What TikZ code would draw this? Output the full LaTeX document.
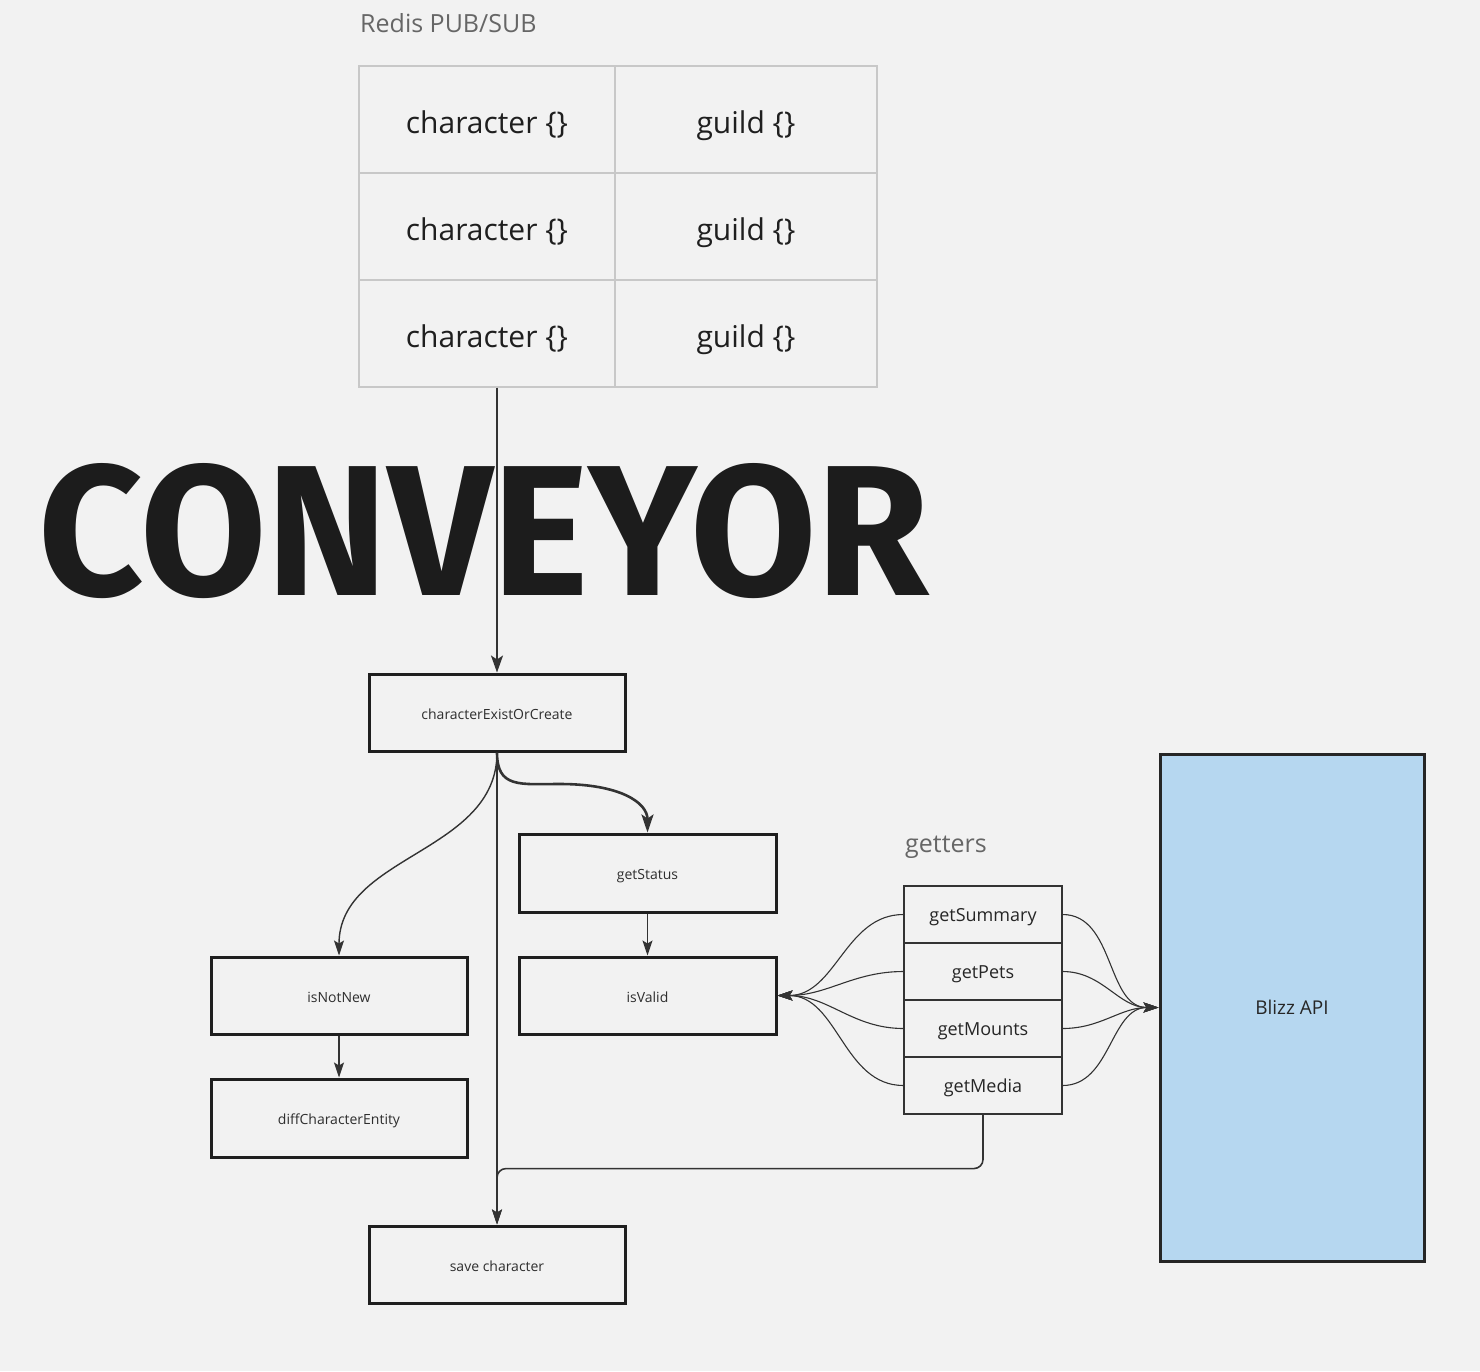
\documentclass[tikz,border=0pt]{standalone}
\usepackage{fontspec}
\setmainfont{Open Sans}
\newfontfamily\titlefont{Fira Sans}
\usetikzlibrary{arrows.meta,calc}

\definecolor{bg}{HTML}{F2F2F2}
\definecolor{ink}{HTML}{333333}
\definecolor{cellline}{HTML}{C8C8C8}
\definecolor{label}{HTML}{666666}
\definecolor{blizz}{HTML}{B6D7F0}

\tikzset{
	cell/.style={draw=cellline, line width=1.2pt, minimum height=107pt, inner sep=0pt, text height=27pt, text depth=0pt, font=\fontsize{30}{36}\selectfont, text=black!88},
	stepbox/.style={draw=black!88, line width=3pt, minimum width=256pt, minimum height=77pt, inner sep=0pt, text height=13pt, text depth=0pt, font=\fontsize{14}{17}\selectfont, text=black!82},
	getrow/.style={draw=ink, line width=1.1pt, minimum width=158pt, minimum height=57pt, inner sep=0pt, text height=14pt, text depth=0pt, font=\fontsize{18}{22}\selectfont, text=black!85},
	caption/.style={anchor=base west, inner sep=0pt, text=label, font=\fontsize{25}{30}\selectfont},
	link/.style={draw=ink, line width=1.4pt, -{Stealth[length=15pt,width=10pt,inset=3pt]}},
}

\begin{document}
\begin{tikzpicture}[x=1pt,y=-1pt]
			%%%%% START %%%%%
			\fill[bg] (0,0) rectangle (1480,1371);
			\useasboundingbox (0,0) rectangle (1480,1371);
			
			% pub/sub table
			\node[caption] (redis) at (360,32) {Redis PUB/SUB};
			\foreach \r/\y in {1/119.5, 2/226.5, 3/333.5} {
				\node[cell, minimum width=256pt] (char\r) at (487,\y) {character \{\}};
				\node[cell, minimum width=262pt] (guild\r) at (746,\y) {guild \{\}};
			}
			
			\node[anchor=base, inner sep=0pt, text=black!89, font=\titlefont\bfseries\fontsize{186}{200}\selectfont] (conveyor) at (484,595) {\scalebox{0.985}[1]{CONVEYOR}};
			
			% steps
			\node[stepbox] (exist) at (497,712.5) {characterExistOrCreate};
			\node[stepbox, minimum width=257pt, minimum height=78pt] (status) at (647.5,873) {getStatus};
			\node[stepbox, minimum width=257pt] (valid) at (647.5,995.5) {isValid};
			\node[stepbox] (notnew) at (339,995.5) {isNotNew};
			\node[stepbox, minimum height=78pt] (diff) at (339,1118) {diffCharacterEntity};
			\node[stepbox] (save) at (497,1264.5) {save character};
			
			% getters
			\node[caption] (getters) at (905,852) {getters};
			\foreach \n/\t [count=\i] in {summary/getSummary, pets/getPets, mounts/getMounts, media/getMedia}
				\node[getrow] (\n) at (983,857.5+57*\i) {\t};
			
			\node[draw=black!85, fill=blizz, line width=3pt, minimum width=264pt, minimum height=507pt, font=\fontsize{19}{23}\selectfont, text=black!85] (blizz) at (1292,1007.5) {Blizz API};
			
			% connectors
			\draw[link, line width=2pt, -{Stealth[length=17pt,width=12pt,inset=4pt]}] (char3.south -| exist.north) -- (exist.north);
			\draw[link] (exist.south) to[out=-90,in=90] (notnew.north);
			\draw[link, line width=2.6pt, -{Stealth[length=18pt,width=12pt,inset=4pt]}] (exist.south) .. controls +(0,36) and +(-40,0) .. (560,784) .. controls +(60,0) and +(0,-30) .. (status.north);
			\draw[link, line width=1.6pt] (exist.south) -- (save.north);
			\draw[link] (status) -- (valid);
			\draw[link] (notnew) -- (diff);
			\draw[link, line width=1.6pt, rounded corners=9pt] (media.south) -- ++(0,54) -| (save.north);
			
			\foreach \n in {summary,pets,mounts,media} {
				\draw[link, line width=1.1pt] (\n.west) to[out=180,in=0] (valid.east);
				\draw[link, line width=1.1pt] (\n.east) to[out=0,in=180] (blizz.west);
			}
			%%%%% END %%%%%
\end{tikzpicture}
\end{document}
